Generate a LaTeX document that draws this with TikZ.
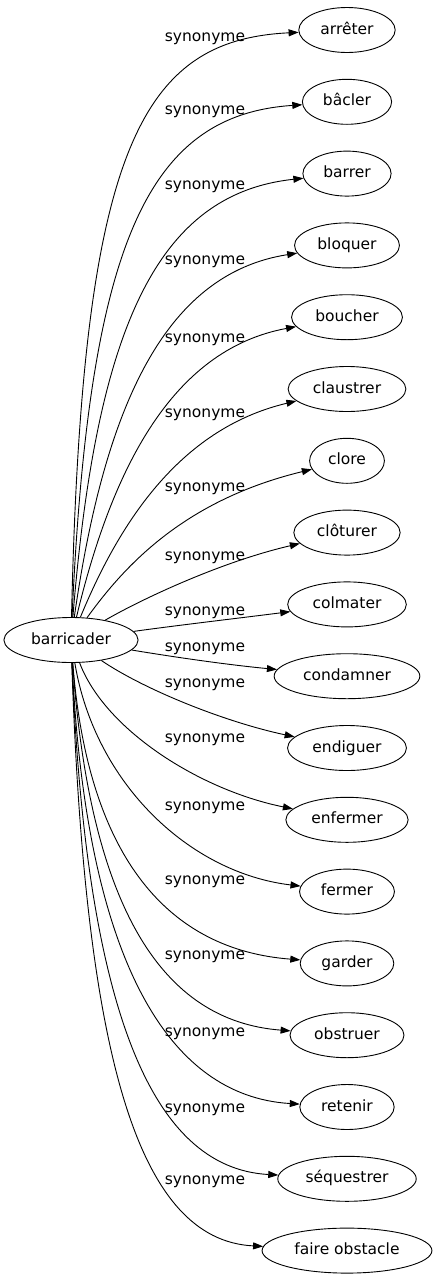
\documentclass[tikz,border=0pt]{standalone}
\usepackage{fontspec}
\setmainfont{DejaVu Sans}
\usetikzlibrary{shapes.geometric,arrows.meta}
\tikzset{
  word/.style={draw, line width=0.9pt, ellipse, inner xsep=7.5pt, inner ysep=2pt, minimum height=45pt,
    text height=11.5pt, text depth=3.5pt, font=\fontsize{15.5}{18}\selectfont},
  rel/.style={inner sep=0pt, text height=11.5pt, text depth=3.5pt, font=\fontsize{15.5}{18}\selectfont},
  syn/.style={-{Triangle[length=10pt,width=7pt]}, line width=0.9pt}
}

\begin{document}
\begin{tikzpicture}[x=1pt,y=-1pt]
		\useasboundingbox (0,0) rectangle (437,1283);

		\node[word] (bar) at (71,640) {barricader};

		\foreach \n/\w [count=\i from 0] in {arreter/arrêter, bacler/bâcler, barrer/barrer,
		  bloquer/bloquer, boucher/boucher, claustrer/claustrer, clore/clore, cloturer/clôturer,
		  colmater/colmater, condamner/condamner, endiguer/endiguer, enfermer/enfermer,
		  fermer/fermer, garder/garder, obstruer/obstruer, retenir/retenir,
		  sequestrer/séquestrer, obstacle/faire obstacle}
		  \node[word] (\n) at (347,{30+71.8*\i}) {\w};

		% edges: target / first control / second control / label height
		\foreach \n/\ax/\ay/\bx/\by/\ly in {arreter/82/150/140/40/37, bacler/89/244/147/115/110,
		  barrer/96/332/155/194/185, bloquer/104/410/163/274/260, boucher/111/473/170/350/338,
		  claustrer/118/526/178/429/413, clore/125/565/185/500/487, cloturer/140/600/220/562/556,
		  colmater/180/625/240/618/611, condamner/180/658/230/665/647, endiguer/145/690/225/722/683,
		  enfermer/105/730/200/790/738, fermer/95/784/190/873/806, garder/88/860/170/950/880,
		  obstruer/90/908/162/1021/955, retenir/86/958/167/1096/1032, sequestrer/86/1006/150/1168/1108,
		  obstacle/85/1055/137/1240/1180}
		{
		  \draw[syn] (bar) .. controls (\ax,\ay) and (\bx,\by) .. (\n);
		  \node[rel] (l\n) at (205,\ly) {synonyme};
		}
	\end{tikzpicture}
\end{document}
